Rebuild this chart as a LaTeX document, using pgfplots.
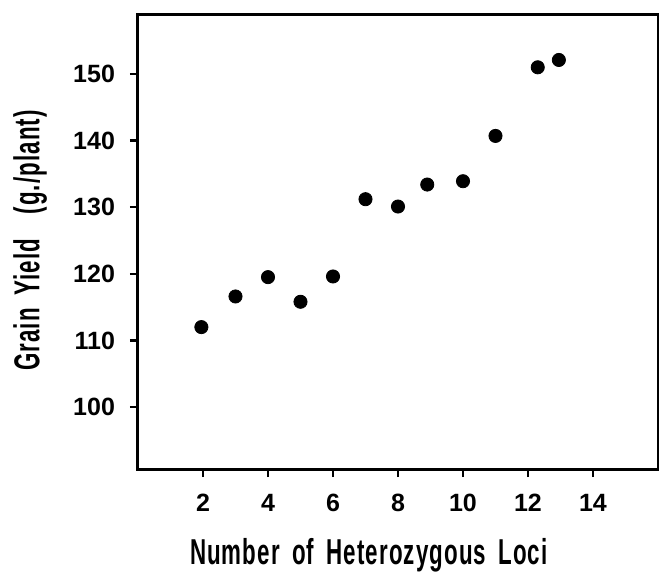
\documentclass[border=0pt]{standalone}
\usepackage{fontspec}
\setmainfont{Liberation Sans}
\newfontfamily\labfont{Liberation Sans}[FakeStretch=0.62, LetterSpace=3, WordSpace=1.7]
\usepackage{pgfplots}
\pgfplotsset{compat=1.18}
\usetikzlibrary{calc}

\begin{document}
\begin{tikzpicture}[x=1pt,y=1pt]
  \begin{axis}[
    scale only axis,
    width=260pt, height=227.5pt,
    xmin=0, xmax=16, ymin=90.7, ymax=159,
    xtick={2,4,...,14}, ytick={100,110,...,150},
    xtick pos=bottom, ytick pos=left,
    tick align=outside, tick style={line width=1.2pt, black},
    major tick length=4pt,
    axis line style={line width=1.5pt},
    /pgf/number format/assume math mode=true,
    ticklabel style={font=\fontsize{12.5}{14}\selectfont\bfseries},
    xticklabel style={yshift=-5pt},
    yticklabel style={xshift=-4pt},
    xlabel={Number of Heterozygous Loci},
    ylabel={Grain Yield \ (g./plant)},
    label style={font=\fontsize{18}{20}\labfont\bfseries},
    xlabel style={at={(axis description cs:0.444,0)}, anchor=north, yshift=-31pt},
    ylabel style={at={(axis description cs:0,0.502)}, anchor=south, yshift=42pt},
  ]
    \addplot[only marks, mark=*, mark size=3.3pt, black]
    coordinates {
      (1.95,112.0) (3,116.6) (4,119.5) (5,115.8) (6,119.6) (7,131.2)
      (8,130.1) (8.9,133.4) (10,133.9) (11,140.7) (12.3,151.0) (12.95,152.1)
    };
  \end{axis}
  \pgfresetboundingbox
  \path ($(current axis.south west)+(-69pt,-52pt)$) rectangle ($(current axis.north east)+(0.5pt,7pt)$);
\end{tikzpicture}
\end{document}
